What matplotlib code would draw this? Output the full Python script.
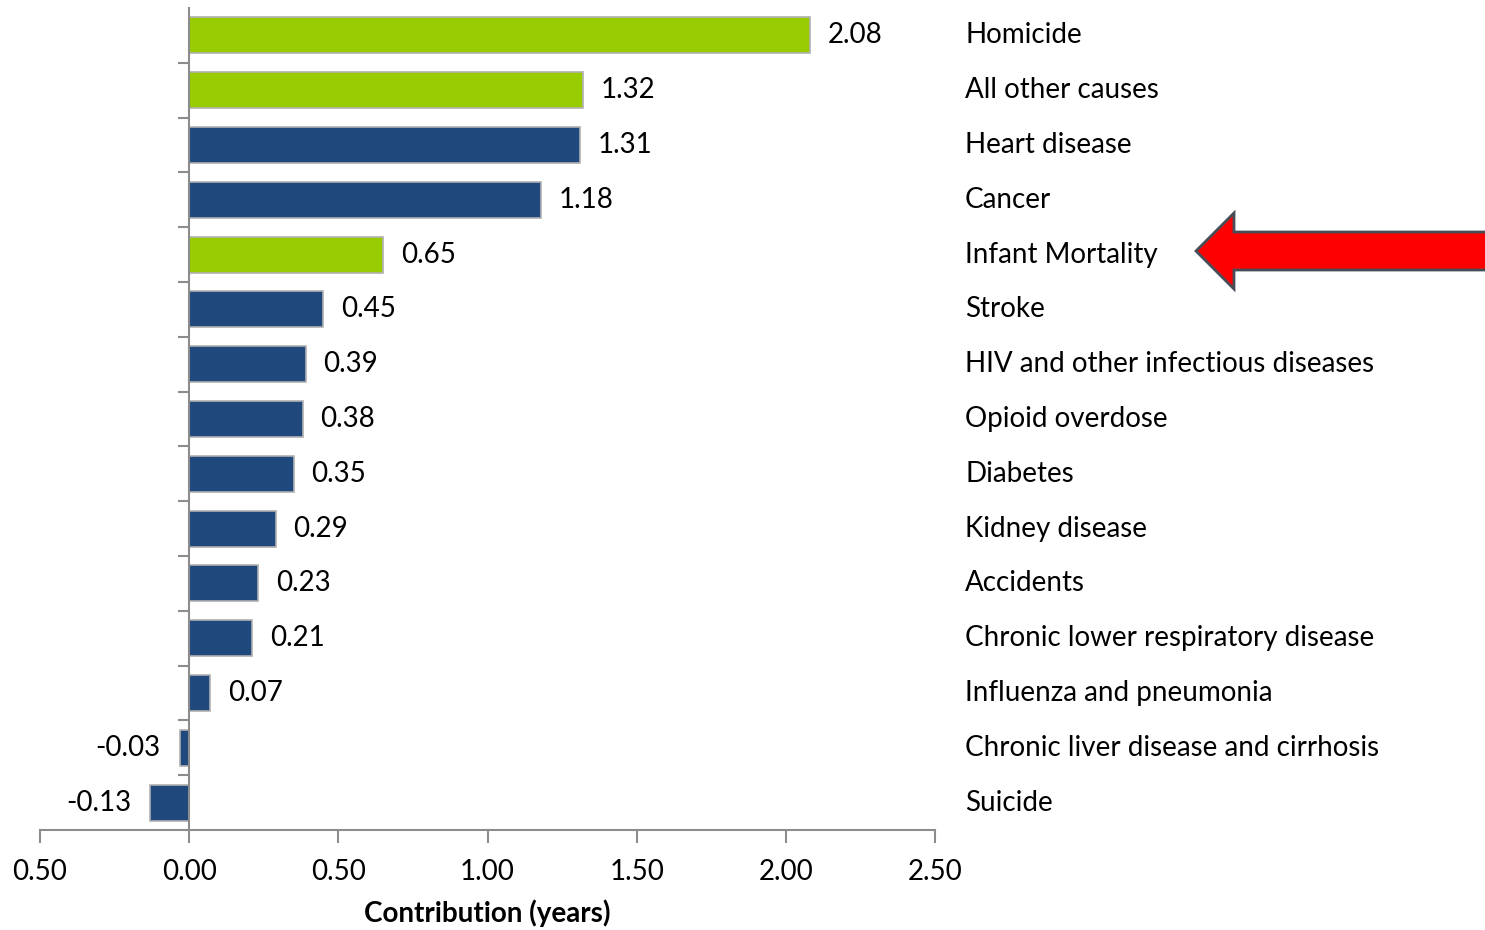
import matplotlib.pyplot as plt
from matplotlib.patches import Polygon
from matplotlib.ticker import FuncFormatter
from matplotlib.transforms import blended_transform_factory

plt.rcParams['font.family'] = ['Lato', 'DejaVu Sans']

causes = ['Homicide', 'All other causes', 'Heart disease', 'Cancer',
          'Infant Mortality', 'Stroke', 'HIV and other infectious diseases',
          'Opioid overdose', 'Diabetes', 'Kidney disease', 'Accidents',
          'Chronic lower respiratory disease', 'Influenza and pneumonia',
          'Chronic liver disease and cirrhosis', 'Suicide']
contribution = [2.08, 1.32, 1.31, 1.18, 0.65, 0.45, 0.39, 0.38, 0.35,
                0.29, 0.23, 0.21, 0.07, -0.03, -0.13]
highlight = ['Homicide', 'All other causes', 'Infant Mortality']

green = '#99CC00'
blue = '#1F497D'
axis_grey = '#8C8C8C'
fs = 20

fig = plt.figure(figsize=(14.85, 9.3), dpi=100)
ax = fig.add_axes([40 / 1485, 1 - 830 / 930, 895 / 1485, 822 / 930])

ypos = list(range(len(causes)))
colors = [green if c in highlight else blue for c in causes]
ax.barh(ypos, contribution, height=0.66, color=colors,
        edgecolor='#B0B0B0', linewidth=1.2, zorder=2)

ax.set_xlim(-0.5, 2.5)
ax.set_ylim(len(causes) - 0.5, -0.5)

# value labels next to bar ends
for y, v in zip(ypos, contribution):
    if v >= 0:
        ax.text(v + 0.06, y, f'{v:.2f}', va='center', ha='left', fontsize=fs)
    else:
        ax.text(v - 0.065, y, f'{v:.2f}', va='center', ha='right', fontsize=fs)

# category names to the right of the plot
tr = blended_transform_factory(ax.transAxes, ax.transData)
for y, name in zip(ypos, causes):
    ax.text(1 + 30 / 895, y, name, transform=tr, va='center', ha='left',
            fontsize=fs)

# spines
ax.spines['top'].set_visible(False)
ax.spines['right'].set_visible(False)
ax.spines['left'].set_position(('data', 0))
ax.spines['left'].set_color(axis_grey)
ax.spines['left'].set_linewidth(1.5)
ax.spines['bottom'].set_color(axis_grey)
ax.spines['bottom'].set_linewidth(1.5)

ax.set_yticks([i + 0.5 for i in ypos[:-1]])
ax.set_yticklabels([])
ax.tick_params(axis='y', length=8, width=1.5, color=axis_grey, direction='out')

ax.set_xticks([-0.5, 0, 0.5, 1.0, 1.5, 2.0, 2.5])
ax.xaxis.set_major_formatter(FuncFormatter(lambda x, p: f'{abs(x):.2f}'))
ax.tick_params(axis='x', length=9, width=1.5, color=axis_grey, direction='out',
               labelsize=fs, pad=12)
ax.set_xlabel('Contribution (years)', fontsize=fs, fontweight='bold', labelpad=10)

# red arrow pointing at Infant Mortality
pts = [(1196, 251), (1234, 213), (1234, 232), (1490, 232), (1490, 270),
       (1234, 270), (1234, 289)]
arrow = Polygon([(x / 1485, 1 - y / 930) for x, y in pts], closed=True,
                transform=fig.transFigure, facecolor='#FF0000',
                edgecolor='#474D57', linewidth=2, clip_on=False)
fig.patches.append(arrow)

fig.savefig('out.png', dpi=100)
